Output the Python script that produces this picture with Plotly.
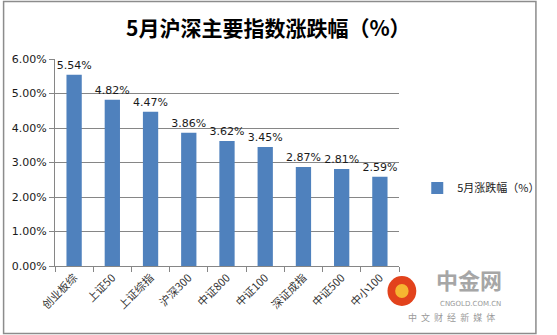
import plotly.graph_objects as go

# May performance of major Shanghai/Shenzhen indices
categories = ["创业板综", "上证50", "上证综指", "沪深300", "中证800", "中证100", "深证成指", "中证500", "中小100"]
changes = [0.0554, 0.0482, 0.0447, 0.0386, 0.0362, 0.0345, 0.0287, 0.0281, 0.0259]
y_ticks = [0, 0.01, 0.02, 0.03, 0.04, 0.05, 0.06]

W, H = 557, 335
ML, MR, MT, MB = 55, 144, 59, 69
PW, PH = W - ML - MR, H - MT - MB

def px_x(p):
    return (p - ML) / PW

def px_y(p):
    return (H - MB - p) / PH

CJK = "Noto Sans CJK SC"
BAR = "#4F81BD"

fig = go.Figure()
fig.add_trace(go.Bar(
    x=categories,
    y=changes,
    name="5月涨跌幅（%）",
    marker=dict(color=BAR, line=dict(width=0)),
    text=[f"{v * 100:.2f}%" for v in changes],
    textposition="outside",
    constraintext="none",
    textfont=dict(family="DejaVu Sans", size=11, color="#1a1a1a"),
    cliponaxis=False,
))

shapes = [
    # outer chart border
    dict(type="rect", xref="paper", yref="paper",
         x0=px_x(1.5), x1=px_x(555.5), y0=px_y(333.5), y1=px_y(1.5),
         line=dict(color="#8c8c8c", width=1.5), layer="below"),
    # logo badge
    dict(type="circle", xref="paper", yref="paper",
         x0=px_x(401), x1=px_x(431), y0=px_y(306), y1=px_y(276),
         fillcolor="#E2421C", line=dict(width=0)),
    dict(type="circle", xref="paper", yref="paper",
         x0=px_x(409), x1=px_x(423), y0=px_y(298), y1=px_y(284),
         fillcolor="#F6B531", line=dict(width=0)),
]

annotations = [
    dict(text="<b>5月沪深主要指数涨跌幅（%）</b>", xref="paper", yref="paper",
         x=px_x(277), y=px_y(27), xanchor="center", yanchor="middle", showarrow=False,
         font=dict(family=CJK, size=21, color="#000000")),
    dict(text="<b>中金网</b>", xref="paper", yref="paper",
         x=px_x(486), y=px_y(279), xanchor="center", yanchor="middle", showarrow=False,
         font=dict(family=CJK, size=22, color="#a6a6a6")),
    dict(text="CNGOLD.COM.CN", xref="paper", yref="paper",
         x=px_x(487), y=px_y(304), xanchor="center", yanchor="middle", showarrow=False,
         font=dict(family="DejaVu Sans", size=7, color="#9a9a9a")),
    dict(text="中  文  财  经  新  媒  体", xref="paper", yref="paper",
         x=px_x(468), y=px_y(317), xanchor="center", yanchor="middle", showarrow=False,
         font=dict(family=CJK, size=9, color="#9a9a9a")),
]

fig.update_layout(
    width=W, height=H,
    margin=dict(l=ML, r=MR, t=MT, b=MB, pad=0),
    paper_bgcolor="white", plot_bgcolor="white",
    bargap=0.6,
    showlegend=True,
    legend=dict(x=px_x(432), y=px_y(188), xanchor="left", yanchor="middle",
                font=dict(family=CJK, size=11, color="#1a1a1a"),
                itemwidth=30, bgcolor="rgba(0,0,0,0)"),
    shapes=shapes,
    annotations=annotations,
    xaxis=dict(
        type="category", tickangle=-45, tickson="boundaries",
        ticks="outside", ticklen=5, tickcolor="#868686",
        showline=True, linecolor="#868686", linewidth=1,
        showgrid=False,
        tickfont=dict(family=CJK, size=11, color="#333333"),
    ),
    yaxis=dict(
        range=[0, 0.06], tickvals=y_ticks, tickformat=".2%",
        ticks="outside", ticklen=5, tickcolor="#868686",
        showline=True, linecolor="#868686", linewidth=1,
        showgrid=True, gridcolor="#868686", gridwidth=1,
        zeroline=False,
        tickfont=dict(family="DejaVu Sans", size=11, color="#1a1a1a"),
    ),
)

fig.write_html("out.html")
